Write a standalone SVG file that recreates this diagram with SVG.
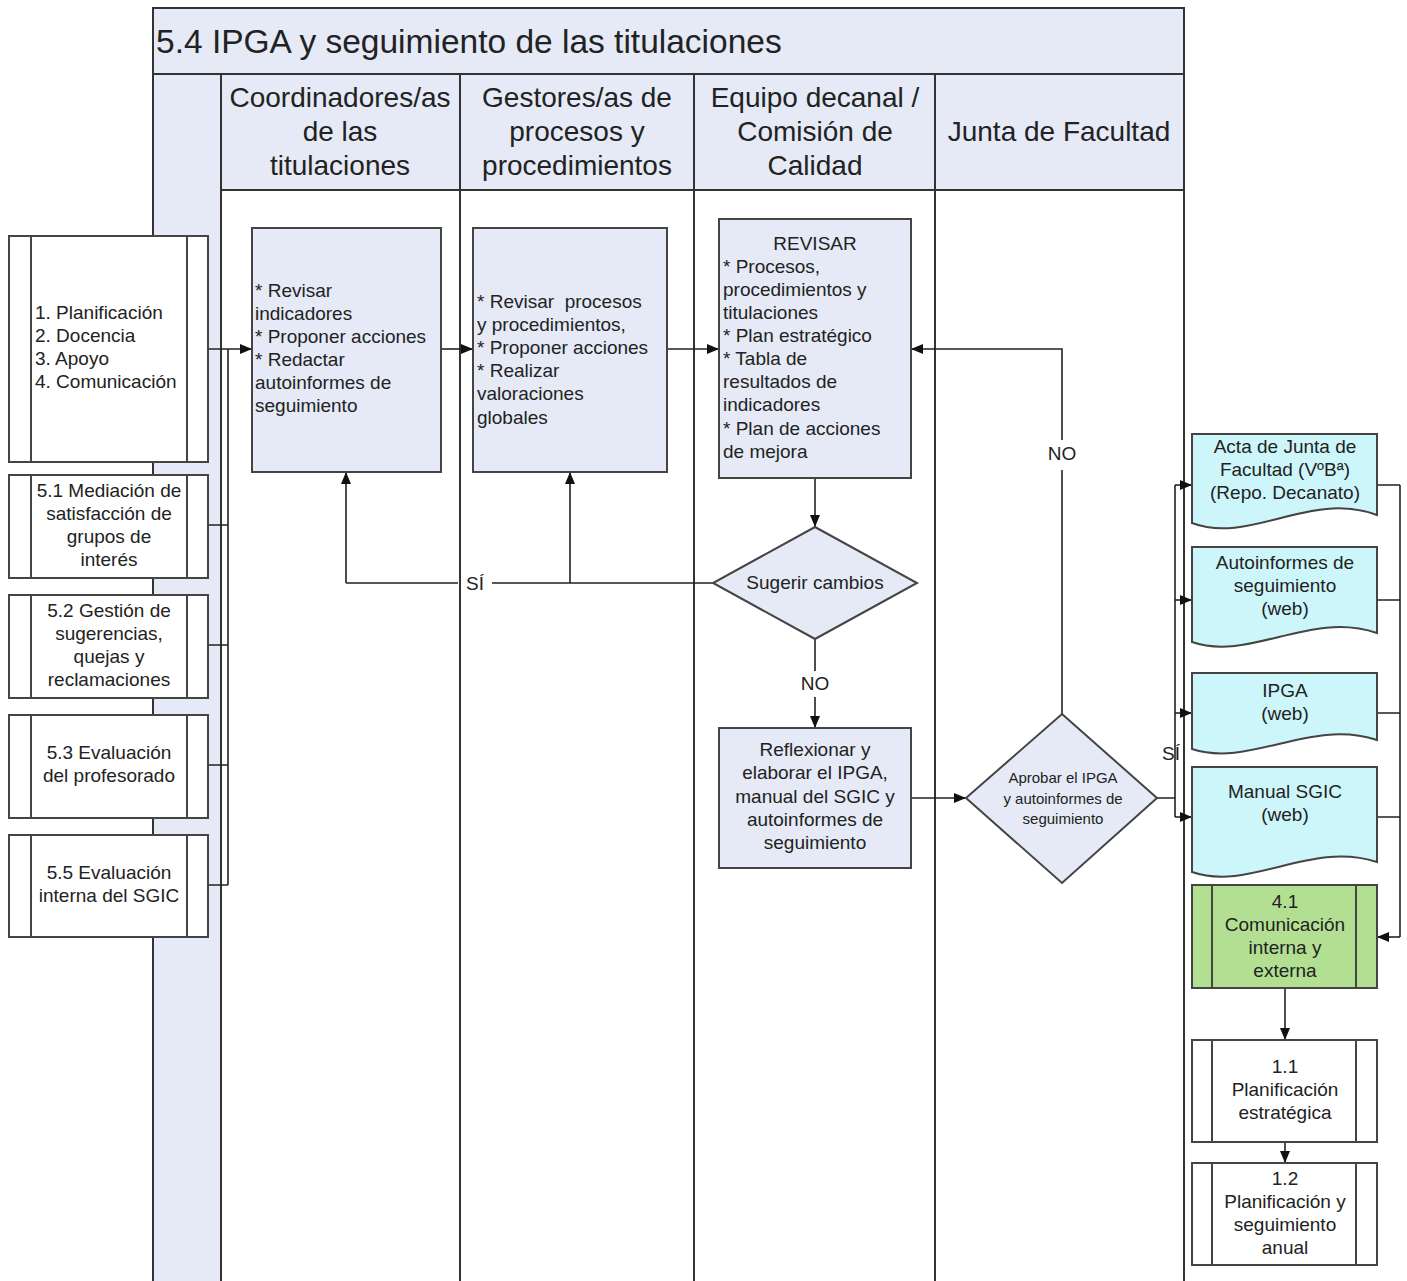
<svg xmlns="http://www.w3.org/2000/svg" width="1407" height="1281" viewBox="0 0 1407 1281">
<style>
text{font-family:"Liberation Sans",Arial,sans-serif;fill:#222}
.t19{font-size:19px}
.t15{font-size:15px}
.hd{font-size:28px}
.c{text-anchor:middle}
.frame{fill:none;stroke:#333;stroke-width:2}
.lane{stroke:#333;stroke-width:2}
.box{fill:#e5eaf6;stroke:#444;stroke-width:2}
.wbox{fill:#fff;stroke:#444;stroke-width:2}
.gbox{fill:#b2df92;stroke:#444;stroke-width:2}
.doc{fill:#cdf6fa;stroke:#444;stroke-width:2}
.in{stroke:#444;stroke-width:2}
.cn{fill:none;stroke:#222;stroke-width:1.6}
.cna{fill:none;stroke:#222;stroke-width:1.6;marker-end:url(#ah)}
</style>
<defs>
<marker id="ah" viewBox="0 0 12 10" refX="12" refY="5" markerWidth="12" markerHeight="10" markerUnits="userSpaceOnUse" orient="auto">
<path d="M0,0 L12,5 L0,10 z" fill="#111"/>
</marker>
</defs>
<rect width="1407" height="1281" fill="#fff"/>
<g id="pool">
<rect x="152" y="8" width="1032" height="66" fill="#e5eaf6"/>
<rect x="152" y="74" width="1032" height="116" fill="#e5eaf6"/>
<rect x="152" y="190" width="69" height="1091" fill="#e5eaf6"/>
<path class="frame" d="M153,1281 V8 H1184 V1281"/>
<line class="lane" x1="153" y1="74" x2="1184" y2="74"/>
<line class="lane" x1="221" y1="190" x2="1184" y2="190"/>
<line class="lane" x1="221" y1="74" x2="221" y2="1281"/>
<line class="lane" x1="460" y1="74" x2="460" y2="1281"/>
<line class="lane" x1="694" y1="74" x2="694" y2="1281"/>
<line class="lane" x1="935" y1="74" x2="935" y2="1281"/>
<text x="156" y="53" style="font-size:33.5px">5.4 IPGA y seguimiento de las titulaciones</text>
<text class="hd c" x="340" y="107">Coordinadores/as</text>
<text class="hd c" x="340" y="141">de las</text>
<text class="hd c" x="340" y="175">titulaciones</text>
<text class="hd c" x="577" y="107">Gestores/as de</text>
<text class="hd c" x="577" y="141">procesos y</text>
<text class="hd c" x="577" y="175">procedimientos</text>
<text class="hd c" x="815" y="107">Equipo decanal /</text>
<text class="hd c" x="815" y="141">Comisión de</text>
<text class="hd c" x="815" y="175">Calidad</text>
<text class="hd c" x="1059" y="141">Junta de Facultad</text>
</g>
<g id="connectors">
<path class="cna" d="M208,349 H252"/>
<path class="cn" d="M208,525 H228 M208,645 H228 M208,765 H228 M208,885 H228 M228,349 V885"/>
<path class="cna" d="M441,349 H473"/>
<path class="cna" d="M667,349 H719"/>
<path class="cna" d="M815,478 V527"/>
<path class="cn" d="M713,583 H492 M458,583 H346"/>
<path class="cna" d="M346,583 V472"/>
<path class="cna" d="M570,583 V472"/>
<path class="cn" d="M815,639 V671"/>
<path class="cna" d="M815,697 V728"/>
<path class="cna" d="M911,798 H966"/>
<path class="cn" d="M1062,714 V470"/>
<path class="cna" d="M1062,440 V349 H911"/>
<path class="cn" d="M1157,798 H1175 M1175,485 V817"/>
<path class="cna" d="M1175,485 H1192"/>
<path class="cna" d="M1175,600 H1192"/>
<path class="cna" d="M1175,713 H1192"/>
<path class="cna" d="M1175,817 H1192"/>
<path class="cn" d="M1377,485 H1400 M1377,600 H1400 M1377,713 H1400 M1377,817 H1400 M1400,485 V937"/>
<path class="cna" d="M1400,937 H1377"/>
<path class="cna" d="M1285,988 V1040"/>
<path class="cna" d="M1285,1142 V1163"/>
<text class="t19 c" x="475" y="590">SÍ</text>
<text class="t19 c" x="815" y="690">NO</text>
<text class="t19 c" x="1062" y="460">NO</text>
<text class="t19 c" x="1171" y="760">SÍ</text>
</g>
<g id="p1">
<rect class="wbox" x="9" y="236" width="199" height="226"/>
<line class="in" x1="31" y1="236" x2="31" y2="462"/><line class="in" x1="187" y1="236" x2="187" y2="462"/>
<text class="t19" x="35" y="319">1. Planificación</text>
<text class="t19" x="35" y="342">2. Docencia</text>
<text class="t19" x="35" y="365">3. Apoyo</text>
<text class="t19" x="35" y="388">4. Comunicación</text>
</g>
<g id="p51">
<rect class="wbox" x="9" y="475" width="199" height="103"/>
<line class="in" x1="31" y1="475" x2="31" y2="578"/><line class="in" x1="187" y1="475" x2="187" y2="578"/>
<text class="t19 c" x="109" y="497">5.1 Mediación de</text>
<text class="t19 c" x="109" y="520">satisfacción de</text>
<text class="t19 c" x="109" y="543">grupos de</text>
<text class="t19 c" x="109" y="566">interés</text>
</g>
<g id="p52">
<rect class="wbox" x="9" y="595" width="199" height="103"/>
<line class="in" x1="31" y1="595" x2="31" y2="698"/><line class="in" x1="187" y1="595" x2="187" y2="698"/>
<text class="t19 c" x="109" y="617">5.2 Gestión de</text>
<text class="t19 c" x="109" y="640">sugerencias,</text>
<text class="t19 c" x="109" y="663">quejas y</text>
<text class="t19 c" x="109" y="686">reclamaciones</text>
</g>
<g id="p53">
<rect class="wbox" x="9" y="715" width="199" height="103"/>
<line class="in" x1="31" y1="715" x2="31" y2="818"/><line class="in" x1="187" y1="715" x2="187" y2="818"/>
<text class="t19 c" x="109" y="759">5.3 Evaluación</text>
<text class="t19 c" x="109" y="782">del profesorado</text>
</g>
<g id="p55">
<rect class="wbox" x="9" y="835" width="199" height="102"/>
<line class="in" x1="31" y1="835" x2="31" y2="937"/><line class="in" x1="187" y1="835" x2="187" y2="937"/>
<text class="t19 c" x="109" y="879">5.5 Evaluación</text>
<text class="t19 c" x="109" y="902">interna del SGIC</text>
</g>
<g id="coord">
<rect class="box" x="252" y="228" width="189" height="244"/>
<text class="t19" x="255" y="297">* Revisar</text>
<text class="t19" x="255" y="320">indicadores</text>
<text class="t19" x="255" y="343">* Proponer acciones</text>
<text class="t19" x="255" y="366">* Redactar</text>
<text class="t19" x="255" y="389">autoinformes de</text>
<text class="t19" x="255" y="412">seguimiento</text>
</g>
<g id="gest">
<rect class="box" x="473" y="228" width="194" height="244"/>
<text class="t19" x="477" y="308" xml:space="preserve">* Revisar  procesos</text>
<text class="t19" x="477" y="331">y procedimientos,</text>
<text class="t19" x="477" y="354">* Proponer acciones</text>
<text class="t19" x="477" y="377">* Realizar</text>
<text class="t19" x="477" y="400">valoraciones</text>
<text class="t19" x="477" y="424">globales</text>
</g>
<g id="revisar">
<rect class="box" x="719" y="219" width="192" height="259"/>
<text class="t19 c" x="815" y="250">REVISAR</text>
<text class="t19" x="723" y="273">* Procesos,</text>
<text class="t19" x="723" y="296">procedimientos y</text>
<text class="t19" x="723" y="319">titulaciones</text>
<text class="t19" x="723" y="342">* Plan estratégico</text>
<text class="t19" x="723" y="365">* Tabla de</text>
<text class="t19" x="723" y="388">resultados de</text>
<text class="t19" x="723" y="411">indicadores</text>
<text class="t19" x="723" y="435">* Plan de acciones</text>
<text class="t19" x="723" y="458">de mejora</text>
</g>
<g id="sugerir">
<path class="box" d="M815,527 L917,583 L815,639 L713,583 Z"/>
<text class="t19 c" x="815" y="589">Sugerir cambios</text>
</g>
<g id="reflexionar">
<rect class="box" x="719" y="728" width="192" height="140"/>
<text class="t19 c" x="815" y="756">Reflexionar y</text>
<text class="t19 c" x="815" y="779">elaborar el IPGA,</text>
<text class="t19 c" x="815" y="803">manual del SGIC y</text>
<text class="t19 c" x="815" y="826">autoinformes de</text>
<text class="t19 c" x="815" y="849">seguimiento</text>
</g>
<g id="aprobar">
<path class="box" d="M1062,714 L1157,798 L1062,883 L966,798 Z"/>
<text class="t15 c" x="1063" y="783">Aprobar el IPGA</text>
<text class="t15 c" x="1063" y="804">y autoinformes de</text>
<text class="t15 c" x="1063" y="824">seguimiento</text>
</g>
<g id="doc-acta">
<path class="doc" d="M1192,434 H1377 V515 C1310,490 1250,545 1192,523 Z"/>
<text class="t19 c" x="1285" y="453">Acta de Junta de</text>
<text class="t19 c" x="1285" y="476">Facultad (VºBª)</text>
<text class="t19 c" x="1285" y="499">(Repo. Decanato)</text>
</g>
<g id="doc-autoinf">
<path class="doc" d="M1192,547 H1377 V633 C1310,610 1250,662 1192,642 Z"/>
<text class="t19 c" x="1285" y="569">Autoinformes de</text>
<text class="t19 c" x="1285" y="592">seguimiento</text>
<text class="t19 c" x="1285" y="615">(web)</text>
</g>
<g id="doc-ipga">
<path class="doc" d="M1192,673 H1377 V740 C1310,718 1250,768 1192,749 Z"/>
<text class="t19 c" x="1285" y="697">IPGA</text>
<text class="t19 c" x="1285" y="720">(web)</text>
</g>
<g id="doc-manual">
<path class="doc" d="M1192,767 H1377 V862 C1310,840 1250,892 1192,872 Z"/>
<text class="t19 c" x="1285" y="798">Manual SGIC</text>
<text class="t19 c" x="1285" y="821">(web)</text>
</g>
<g id="p41">
<rect class="gbox" x="1192" y="885" width="185" height="103"/>
<line class="in" x1="1212" y1="885" x2="1212" y2="988"/><line class="in" x1="1356" y1="885" x2="1356" y2="988"/>
<text class="t19 c" x="1285" y="908">4.1</text>
<text class="t19 c" x="1285" y="931">Comunicación</text>
<text class="t19 c" x="1285" y="954">interna y</text>
<text class="t19 c" x="1285" y="977">externa</text>
</g>
<g id="p11">
<rect class="wbox" x="1192" y="1040" width="185" height="102"/>
<line class="in" x1="1212" y1="1040" x2="1212" y2="1142"/><line class="in" x1="1356" y1="1040" x2="1356" y2="1142"/>
<text class="t19 c" x="1285" y="1073">1.1</text>
<text class="t19 c" x="1285" y="1096">Planificación</text>
<text class="t19 c" x="1285" y="1119">estratégica</text>
</g>
<g id="p12">
<rect class="wbox" x="1192" y="1163" width="185" height="102"/>
<line class="in" x1="1212" y1="1163" x2="1212" y2="1265"/><line class="in" x1="1356" y1="1163" x2="1356" y2="1265"/>
<text class="t19 c" x="1285" y="1185">1.2</text>
<text class="t19 c" x="1285" y="1208">Planificación y</text>
<text class="t19 c" x="1285" y="1231">seguimiento</text>
<text class="t19 c" x="1285" y="1254">anual</text>
</g>
</svg>
